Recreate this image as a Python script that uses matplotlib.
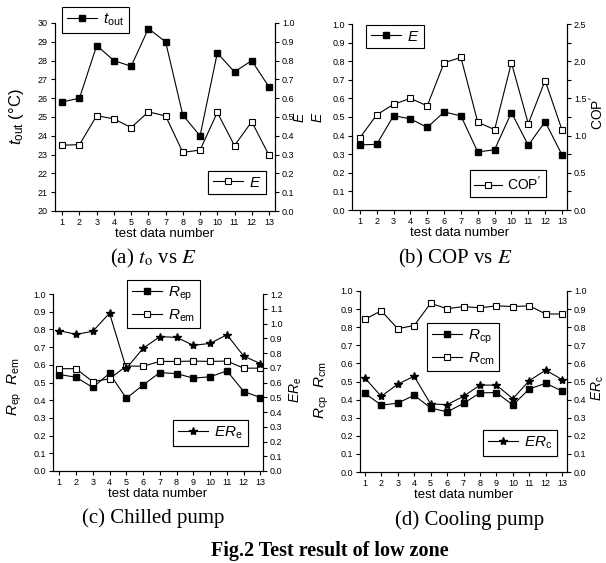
import numpy as np
import matplotlib.pyplot as plt
from matplotlib.lines import Line2D

plt.rcParams['font.family'] = ['Liberation Sans', 'DejaVu Sans']
plt.rcParams['mathtext.fontset'] = 'custom'
plt.rcParams['mathtext.rm'] = 'Liberation Sans'
plt.rcParams['mathtext.it'] = 'Liberation Sans:italic'
plt.rcParams['mathtext.bf'] = 'Liberation Sans:bold'

test_no = np.arange(1, 14)

# (a) outlet temperature and E
t_out = [25.8, 26.0, 28.8, 28.0, 27.7, 29.7, 29.0, 25.1, 24.0, 28.4, 27.4, 28.0, 26.6]
E = [0.35, 0.353, 0.507, 0.49, 0.444, 0.527, 0.506, 0.312, 0.324, 0.524, 0.348, 0.475, 0.297]
# (b) COP'
COP = [0.97, 1.28, 1.42, 1.50, 1.40, 1.98, 2.05, 1.18, 1.08, 1.98, 1.16, 1.74, 1.08]
# (c) chilled pump
R_ep = [0.545, 0.53, 0.472, 0.552, 0.41, 0.486, 0.556, 0.55, 0.525, 0.532, 0.566, 0.449, 0.415]
R_em = [0.578, 0.578, 0.505, 0.521, 0.593, 0.592, 0.619, 0.619, 0.621, 0.619, 0.621, 0.581, 0.581]
ER_e = [0.952, 0.926, 0.947, 1.07, 0.695, 0.832, 0.911, 0.906, 0.852, 0.865, 0.924, 0.779, 0.728]
# (d) cooling pump
R_cp = [0.435, 0.37, 0.38, 0.424, 0.354, 0.332, 0.379, 0.437, 0.439, 0.37, 0.459, 0.49, 0.447]
R_cm = [0.843, 0.891, 0.792, 0.809, 0.932, 0.902, 0.914, 0.907, 0.918, 0.914, 0.918, 0.873, 0.873]
ER_c = [0.52, 0.418, 0.485, 0.529, 0.376, 0.372, 0.418, 0.48, 0.48, 0.405, 0.505, 0.563, 0.51]

W, H = 606, 563
fig = plt.figure(figsize=(W / 100, H / 100), dpi=100)


def box(l, t, r, b):
    return [l / W, 1 - b / H, (r - l) / W, (b - t) / H]


def fx(x):
    return x / W


def fy(y):
    return 1 - y / H


filled = dict(color='black', lw=0.8, marker='s', ms=5, mfc='black', mec='black')
hollow = dict(color='black', lw=0.8, marker='s', ms=4.2, mfc='white', mec='black', mew=0.8)
star = dict(color='black', lw=0.8, marker='*', ms=6, mfc='black', mec='black')


def setup(ax, ax2, xlim):
    for a in (ax, ax2):
        a.spines['top'].set_visible(False)
        for s in a.spines.values():
            s.set_linewidth(0.8)
        a.tick_params(direction='out', length=3, width=0.8, labelsize=6.5, pad=2)
    ax.set_xlim(*xlim)
    ax.set_xticks(test_no)
    ax.set_xlabel('test data number', fontsize=9.5, labelpad=1)


def leg(ax, handles, x, y, fs=11):
    lg = ax.legend(handles=handles, loc='upper left',
                   bbox_to_anchor=(fx(x), fy(y)), bbox_transform=fig.transFigure,
                   fontsize=fs, frameon=True, fancybox=False, framealpha=1,
                   edgecolor='black', handlelength=2.0, handletextpad=0.4,
                   borderpad=0.3, labelspacing=0.3, borderaxespad=0)
    lg.get_frame().set_linewidth(0.8)
    lg.set_zorder(10)
    ax.add_artist(lg)
    return lg


# ---- (a) ----
ax = fig.add_axes(box(55, 23, 275, 211))
ax2 = ax.twinx()
ax.plot(test_no, t_out, **filled)
ax2.plot(test_no, E, **hollow)
setup(ax, ax2, (0.58, 13.35))
ax.set_ylim(20, 30)
ax.set_yticks(np.arange(20, 31, 1))
ax2.set_ylim(0, 1.0)
ax2.set_yticks(np.arange(0, 1.01, 0.1))
ax2.set_yticklabels(['%.1f' % v for v in np.arange(0, 1.01, 0.1)])
leg(ax2, [Line2D([], [], **filled, label=r'$t_{\rm out}$')], 62, 7)
leg(ax2, [Line2D([], [], **hollow, label=r'$E$')], 208, 171)
fig.text(fx(16), fy(117), r'$t_{\rm out}$ (°C)', rotation=90, ha='center', va='center', fontsize=12)
fig.text(fx(300), fy(117), r'$E$', rotation=90, ha='center', va='center', fontsize=10)

# ---- (b) ----
ax = fig.add_axes(box(352, 24, 567, 210))
ax2 = ax.twinx()
ax.plot(test_no, E, **filled)
ax2.plot(test_no, COP, **hollow)
setup(ax, ax2, (0.53, 13.3))
ax.set_ylim(0, 1.0)
ax.set_yticks(np.arange(0, 1.01, 0.1))
ax.set_yticklabels(['%.1f' % v for v in np.arange(0, 1.01, 0.1)])
ax2.set_ylim(0, 2.5)
ax2.set_yticks(np.arange(0, 2.51, 0.5))
ax2.set_yticklabels(['%.1f' % v for v in np.arange(0, 2.51, 0.5)])
ax2.set_yticks(np.arange(0.25, 2.5, 0.5), minor=True)
ax2.tick_params(which='minor', direction='out', length=3, width=0.8)
leg(ax, [Line2D([], [], **filled, label=r'$E$')], 366, 25)
leg(ax, [Line2D([], [], **hollow, label=r"COP$'$")], 470, 170, fs=10)
fig.text(fx(318), fy(117), r'$E$', rotation=90, ha='center', va='center', fontsize=10)
fig.text(fx(597), fy(113), r"COP$'$", rotation=90, ha='center', va='center', fontsize=10)

# ---- (c) ----
ax = fig.add_axes(box(53, 294, 263, 471))
ax2 = ax.twinx()
ax.plot(test_no, R_ep, **filled)
ax.plot(test_no, R_em, **hollow)
ax2.plot(test_no, ER_e, **star)
setup(ax, ax2, (0.63, 13.15))
ax.set_ylim(0, 1.0)
ax.set_yticks(np.arange(0, 1.01, 0.1))
ax.set_yticklabels(['%.1f' % v for v in np.arange(0, 1.01, 0.1)])
ax2.set_ylim(0, 1.2)
ax2.set_yticks(np.arange(0, 1.21, 0.1))
ax2.set_yticklabels(['%.1f' % v for v in np.arange(0, 1.21, 0.1)])
leg(ax2, [Line2D([], [], **filled, label=r'$R_{\rm ep}$'),
          Line2D([], [], **hollow, label=r'$R_{\rm em}$')], 127, 280)
leg(ax2, [Line2D([], [], **star, label=r'$ER_{\rm e}$')], 173, 420)
fig.text(fx(15), fy(387), r'$R_{\rm ep}$  $R_{\rm em}$', rotation=90, ha='center', va='center', fontsize=11)
fig.text(fx(296), fy(390), r'$ER_{\rm e}$', rotation=90, ha='center', va='center', fontsize=10)

# ---- (d) ----
ax = fig.add_axes(box(360, 291, 567, 472))
ax2 = ax.twinx()
ax.plot(test_no, R_cp, **filled)
ax.plot(test_no, R_cm, **hollow)
ax2.plot(test_no, ER_c, **star)
setup(ax, ax2, (0.71, 13.29))
for a in (ax, ax2):
    a.set_ylim(0, 1.0)
    a.set_yticks(np.arange(0, 1.01, 0.1))
    a.set_yticklabels(['%.1f' % v for v in np.arange(0, 1.01, 0.1)])
leg(ax2, [Line2D([], [], **filled, label=r'$R_{\rm cp}$'),
          Line2D([], [], **hollow, label=r'$R_{\rm cm}$')], 427, 323)
leg(ax2, [Line2D([], [], **star, label=r'$ER_{\rm c}$')], 483, 430)
fig.text(fx(322), fy(390), r'$R_{\rm cp}$  $R_{\rm cm}$', rotation=90, ha='center', va='center', fontsize=11)
fig.text(fx(598), fy(388), r'$ER_{\rm c}$', rotation=90, ha='center', va='center', fontsize=10)

# ---- captions ----
cap = dict(ha='center', va='center', fontsize=15, family='Liberation Serif', math_fontfamily='stix')
fig.text(fx(153), fy(258), r'(a) $t_{\rm o}$ vs $E$', **cap)
fig.text(fx(455), fy(258), r'(b) COP vs $E$', **cap)
fig.text(fx(153), fy(518), '(c) Chilled pump', **cap)
fig.text(fx(470), fy(520), '(d) Cooling pump', **cap)
fig.text(fx(330), fy(551), 'Fig.2 Test result of low zone', ha='center', va='center',
         fontsize=14.5, family='Liberation Serif', weight='bold')

fig.savefig('out.png', dpi=100)
